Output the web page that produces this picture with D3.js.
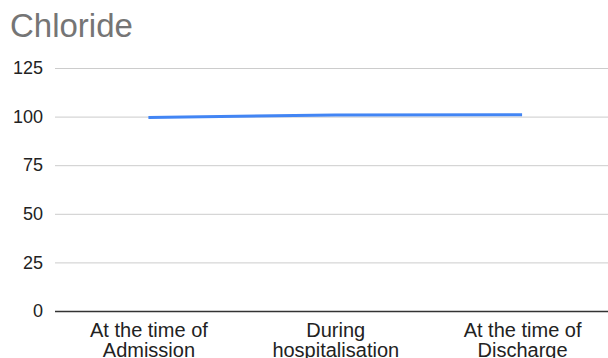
<!DOCTYPE html>
<html>
<head>
<meta charset="utf-8">
<script src="https://cdn.jsdelivr.net/npm/d3@7"></script>
<style>
  html, body { margin: 0; padding: 0; background: #fff; }
  svg { display: block; font-family: Arial, "Liberation Sans", sans-serif; }
</style>
</head>
<body>
<svg id="chart" width="608" height="358"></svg>
<script>
// Chloride levels across the hospital stay
const categories = [["At the time of", "Admission"], ["During", "hospitalisation"], ["At the time of", "Discharge"]];
const chloride = [99.6, 100.8, 101];
const yTicks = [0, 25, 50, 75, 100, 125];

const svg = d3.select("#chart");
const plotLeft = 55, plotRight = 615.5, plotTop = 68, plotBottom = 311;
const fontStack = "Arial, 'Liberation Sans', sans-serif";

const x = d3.scalePoint()
  .domain(d3.range(categories.length))
  .range([plotLeft, plotRight])
  .padding(0.5);

const y = d3.scaleLinear().domain([0, 125]).range([plotBottom, plotTop]);

// Title
svg.append("text")
  .attr("x", 10).attr("y", 37)
  .attr("fill", "#757575")
  .attr("font-size", 33)
  .attr("font-family", fontStack)
  .text("Chloride");

// Horizontal gridlines and value labels
const yAxis = d3.axisLeft(y).tickValues(yTicks).tickSize(-(608 - plotLeft)).tickPadding(12);
const gy = svg.append("g").attr("transform", `translate(${plotLeft},0)`).call(yAxis);
gy.select(".domain").remove();
gy.selectAll(".tick line").attr("stroke", "#cccccc").attr("stroke-width", 1);
gy.selectAll(".tick text").attr("fill", "#222").attr("font-size", 18).attr("font-family", fontStack);
gy.selectAll(".tick").filter(d => d === 0).select("line").attr("stroke", "#333").attr("stroke-width", 1.5);

// Category labels (two lines each)
const xAxis = d3.axisBottom(x).tickSize(0).tickFormat(() => "");
const gx = svg.append("g").attr("transform", `translate(0,${plotBottom})`).call(xAxis);
gx.select(".domain").remove();
gx.selectAll(".tick").each(function(i) {
  const t = d3.select(this).append("text")
    .attr("fill", "#222")
    .attr("font-size", 20)
    .attr("text-anchor", "middle")
    .attr("font-family", fontStack);
  categories[i].forEach((line, k) => {
    t.append("tspan").attr("x", 0).attr("y", 25.5 + k * 20).text(line);
  });
});

// Series line
const line = d3.line()
  .x((d, i) => x(i))
  .y(d => y(d));

svg.append("path")
  .datum(chloride)
  .attr("fill", "none")
  .attr("stroke", "#4285f4")
  .attr("stroke-width", 3)
  .attr("d", line);
</script>
</body>
</html>
